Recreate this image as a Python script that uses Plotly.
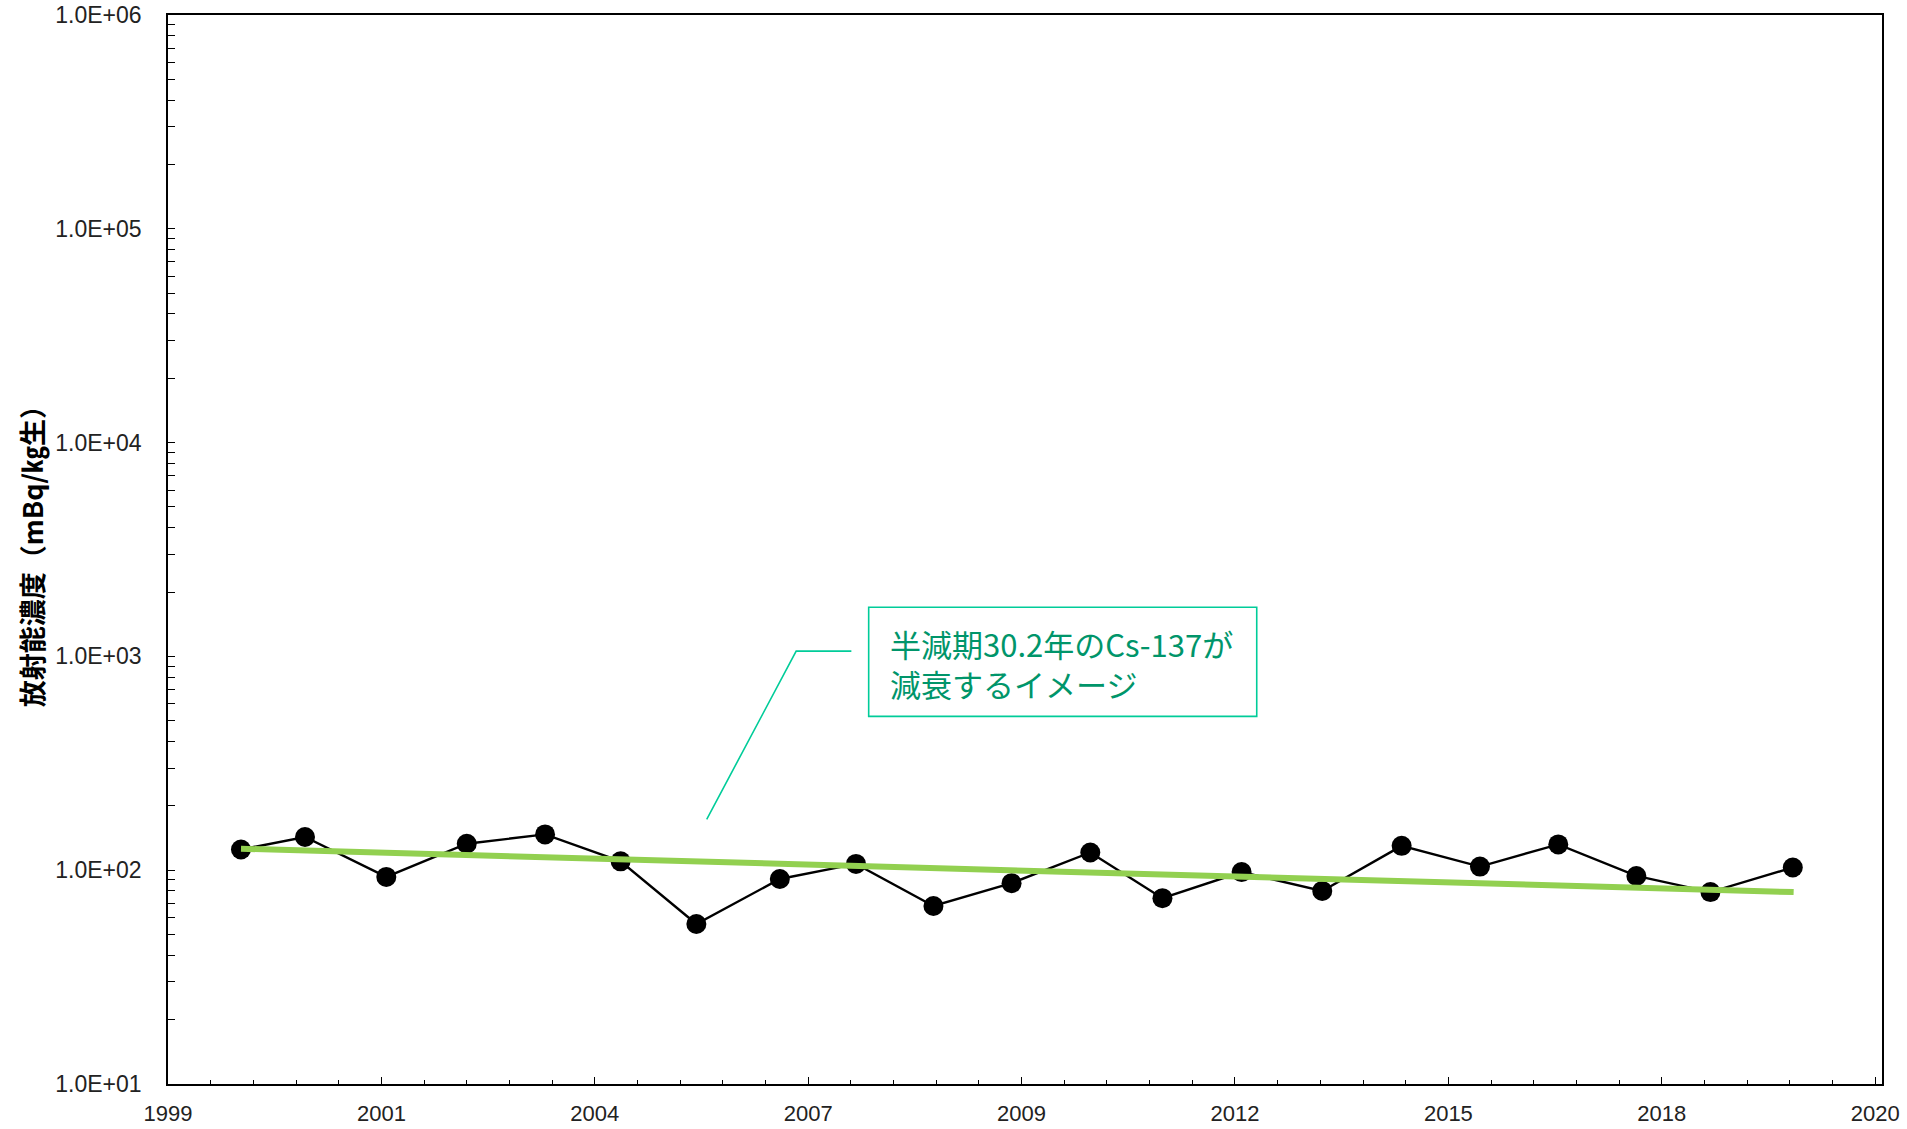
import plotly.graph_objects as go

# --- data ---
sample_dates = [
    "1999-12-09", "2000-10-04", "2001-10-20", "2002-11-01", "2003-11-03",
    "2004-10-22", "2005-10-12", "2006-11-07", "2007-10-30", "2008-10-27",
    "2009-10-28", "2010-11-01", "2011-10-05", "2012-10-10", "2013-10-23",
    "2014-10-30", "2015-11-01", "2016-11-02", "2017-11-03", "2018-10-16",
    "2019-11-06",
]
activity = [
    125, 143, 93, 133, 147,
    110, 56, 91, 107, 68,
    87, 121, 74, 98, 80,
    130, 104, 132, 94, 79,
    103,
]
decay_dates = ["1999-12-09", "2019-11-10"]
decay_values = [126, 79]

y_tickvals = [10, 100, 1000, 10000, 100000, 1000000]
y_ticktext = ["1.0E+01", "1.0E+02", "1.0E+03", "1.0E+04", "1.0E+05", "1.0E+06"]

y_title = "放射能濃度（mBq/㎏生）"
note_text = "半減期30.2年のCs-137が<br>減衰するイメージ"

DAY_MS = 86400000
TEAL = "#00CC99"
TEXT_TEAL = "#00956A"

fig = go.Figure()
fig.add_trace(go.Scatter(
    x=sample_dates, y=activity, mode="lines+markers",
    line=dict(color="black", width=2.4),
    marker=dict(color="black", size=20),
    showlegend=False, hoverinfo="x+y",
))
fig.add_trace(go.Scatter(
    x=decay_dates, y=decay_values, mode="lines",
    line=dict(color="#92D050", width=6),
    showlegend=False,
))

fig.update_xaxes(
    type="date",
    range=["1999-01-01", "2020-12-28"],
    tickmode="linear", tick0="1999-01-01", dtick=1000 * DAY_MS,
    tickformat="%Y",
    ticks="inside", ticklen=7, tickwidth=1.3, tickcolor="black",
    minor=dict(tickmode="linear", tick0="1999-01-01", dtick=200 * DAY_MS,
               ticks="inside", ticklen=4, tickwidth=1.3, tickcolor="black"),
    showline=True, linecolor="black", linewidth=1.5, mirror=True,
    showgrid=False, zeroline=False,
    tickfont=dict(family="Liberation Sans, Arial, sans-serif", size=22, color="#222222"),
    ticklabelstandoff=9,
    automargin=False,
)
fig.update_yaxes(
    type="log", range=[1, 6],
    tickmode="array", tickvals=y_tickvals, ticktext=y_ticktext,
    ticks="inside", ticklen=7, tickwidth=1.3, tickcolor="black",
    minor=dict(dtick="D1", ticks="inside", ticklen=7, tickwidth=1.3, tickcolor="black",
               showgrid=False),
    showline=True, linecolor="black", linewidth=1.5, mirror=True,
    showgrid=False, zeroline=False,
    tickfont=dict(family="Liberation Sans, Arial, sans-serif", size=23, color="#222222"),
    ticklabelstandoff=20,
    automargin=False,
)

# y-axis title
fig.add_annotation(xref="paper", yref="paper", x=-0.0795, y=0.5,
                   xanchor="center", yanchor="middle", textangle=-90,
                   text=y_title, showarrow=False,
                   font=dict(family="Noto Sans CJK JP", size=27, color="black", weight="bold"))

# callout leader line and box
fig.add_shape(type="path", xref="paper", yref="paper",
              path="M 0.3143 0.2476 L 0.3665 0.4049 L 0.3987 0.4049",
              line=dict(color=TEAL, width=1.6))
fig.add_shape(type="rect", xref="paper", yref="paper",
              x0=0.4088, x1=0.6352, y0=0.3439, y1=0.4460,
              line=dict(color=TEAL, width=1.6), fillcolor="white")
fig.add_annotation(xref="paper", yref="paper", x=0.4200, y=0.3930,
                   xanchor="left", yanchor="middle", align="left",
                   text=note_text, showarrow=False,
                   font=dict(family="Noto Sans CJK JP", size=31, color=TEXT_TEAL))

fig.update_layout(
    width=1907, height=1129,
    margin=dict(l=168, r=25, t=15, b=45),
    plot_bgcolor="white", paper_bgcolor="white",
)

fig.write_html("out.html", config={"displayModeBar": False},
               post_script="document.body.style.margin='0';document.body.style.overflow='hidden';")
